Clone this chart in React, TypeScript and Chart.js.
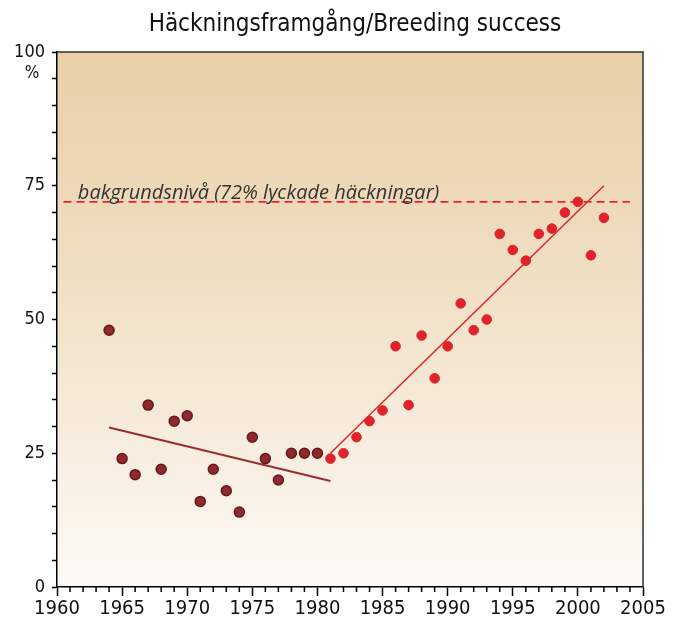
import React, { useEffect, useRef } from "react";
import { Chart, registerables } from "chart.js";

Chart.register(...registerables);

const TITLE = "Häckningsframgång/Breeding success";
const BASELINE_LABEL = "bakgrundsnivå (72% lyckade häckningar)";
const BASELINE_VALUE = 72;

const earlyYears = [1964, 1965, 1966, 1967, 1968, 1969, 1970, 1971, 1972, 1973, 1974, 1975, 1976, 1977, 1978, 1979, 1980];
const earlyValues = [48, 24, 21, 34, 22, 31, 32, 16, 22, 18, 14, 28, 24, 20, 25, 25, 25];

const lateYears = [1981, 1982, 1983, 1984, 1985, 1986, 1987, 1988, 1989, 1990, 1991, 1992, 1993, 1994, 1995, 1996, 1997, 1998, 1999, 2000, 2001, 2002];
const lateValues = [24, 25, 28, 31, 33, 45, 34, 47, 39, 45, 53, 48, 50, 66, 63, 61, 66, 67, 70, 72, 62, 69];

const earlyTrendYears = [1964, 1981];
const earlyTrendValues = [29.8, 19.8];
const lateTrendYears = [1981, 2002];
const lateTrendValues = [25, 75];

const baselineYears = [1960.5, 2004];

const xTicks = [1960, 1965, 1970, 1975, 1980, 1985, 1990, 1995, 2000, 2005];
const yTicks = [0, 25, 50, 75, 100];

const FONT = "'DejaVu Sans Condensed', 'DejaVu Sans', sans-serif";

export default function App() {
  const ref = useRef<HTMLCanvasElement | null>(null);

  useEffect(() => {
    document.body.style.margin = "0";
    const canvas = ref.current;
    if (!canvas) return;

    const decor = {
      id: "decor",
      beforeDraw(chart: any) {
        const { ctx, chartArea: a } = chart;
        const g = ctx.createLinearGradient(0, a.top, 0, a.bottom);
        g.addColorStop(0, "#E8CFA5");
        g.addColorStop(0.45, "#F1E0C6");
        g.addColorStop(1, "#FDFAF6");
        ctx.save();
        ctx.fillStyle = g;
        ctx.fillRect(a.left, a.top, a.right - a.left, a.bottom - a.top);
        ctx.restore();
      },
      afterDraw(chart: any) {
        const { ctx, chartArea: a, scales } = chart;
        const xs = scales.x;
        const ys = scales.y;
        ctx.save();
        // frame
        ctx.strokeStyle = "#333333";
        ctx.lineWidth = 1.5;
        ctx.beginPath();
        ctx.moveTo(a.left, a.top);
        ctx.lineTo(a.right, a.top);
        ctx.lineTo(a.right, a.bottom);
        ctx.stroke();
        // minor x ticks
        ctx.strokeStyle = "#000";
        ctx.lineWidth = 1.5;
        ctx.beginPath();
        for (let yr = xTicks[0]; yr <= xTicks[xTicks.length - 1]; yr++) {
          if (yr % 5 === 0) continue;
          const px = xs.getPixelForValue(yr);
          ctx.moveTo(px, a.bottom);
          ctx.lineTo(px, a.bottom + 5);
        }
        ctx.stroke();
        // percent sign
        ctx.fillStyle = "#111";
        ctx.font = `17px ${FONT}`;
        ctx.textAlign = "center";
        ctx.textBaseline = "middle";
        ctx.fillText("%", 32, ys.getPixelForValue(100) + 22);
        // baseline label
        ctx.fillStyle = "#333";
        ctx.font = `italic 20px 'Open Sans', sans-serif`;
        ctx.textAlign = "left";
        ctx.textBaseline = "alphabetic";
        ctx.fillText(BASELINE_LABEL, xs.getPixelForValue(1961.6), ys.getPixelForValue(BASELINE_VALUE) - 3);
        ctx.restore();
      },
    };

    const toPts = (xsArr: number[], ysArr: number[]) => xsArr.map((x, i) => ({ x, y: ysArr[i] }));

    const chart = new Chart(canvas, {
      type: "scatter",
      data: {
        datasets: [
          {
            type: "line",
            data: toPts(baselineYears, [BASELINE_VALUE, BASELINE_VALUE]),
            borderColor: "#E82430",
            borderWidth: 1.8,
            borderDash: [8, 5],
            pointRadius: 0,
            order: 3,
          } as any,
          {
            type: "line",
            data: toPts(earlyTrendYears, earlyTrendValues),
            borderColor: "#9A2C30",
            borderWidth: 2,
            pointRadius: 0,
            order: 2,
          } as any,
          {
            type: "line",
            data: toPts(lateTrendYears, lateTrendValues),
            borderColor: "#E0242C",
            borderWidth: 1.5,
            pointRadius: 0,
            order: 2,
          } as any,
          {
            data: toPts(earlyYears, earlyValues),
            backgroundColor: "#8C2A2E",
            borderColor: "#6A171A",
            borderWidth: 1.5,
            pointRadius: 5,
            order: 1,
          },
          {
            data: toPts(lateYears, lateValues),
            backgroundColor: "#E0222B",
            borderColor: "#E0222B",
            borderWidth: 1,
            pointRadius: 4.8,
            order: 0,
          },
        ],
      },
      options: {
        animation: false,
        responsive: false,
        maintainAspectRatio: false,
        layout: { padding: { top: 52, right: 34, left: 0, bottom: 0 }, autoPadding: false } as any,
        plugins: {
          legend: { display: false },
          tooltip: { enabled: false },
          title: { display: false },
        },
        scales: {
          x: {
            type: "linear",
            min: xTicks[0],
            max: xTicks[xTicks.length - 1],
            afterBuildTicks: (s: any) => {
              s.ticks = xTicks.map((v) => ({ value: v }));
            },
            afterFit: (s: any) => {
              s.height = 36;
            },
            grid: { drawOnChartArea: false, tickLength: 9, tickWidth: 1.5, tickColor: "#000" },
            border: { color: "#000", width: 1.5 },
            ticks: {
              color: "#111",
              font: { family: FONT, size: 20 },
              padding: 1,
              maxRotation: 0,
              autoSkip: false,
              callback: (v: any) => String(v),
            },
          },
          y: {
            type: "linear",
            min: 0,
            max: 100,
            afterBuildTicks: (s: any) => {
              const t = [];
              for (let v = 0; v <= 100; v += 5) t.push({ value: v });
              s.ticks = t;
            },
            afterFit: (s: any) => {
              s.width = 57;
            },
            grid: { drawOnChartArea: false, tickLength: 5, tickWidth: 1.5, tickColor: "#000" },
            border: { color: "#000", width: 1.5 },
            ticks: {
              color: "#111",
              font: { family: FONT, size: 18 },
              padding: 7,
              autoSkip: false,
              callback: (v: any) => (yTicks.includes(v) ? String(v) : ""),
            },
          },
        },
      },
      plugins: [decor],
    });

    return () => chart.destroy();
  }, []);

  return (
    <div style={{ position: "relative", width: 677, height: 623 }}>
      <div
        style={{
          position: "absolute",
          top: 8,
          left: 0,
          width: 677,
          textAlign: "center",
          fontFamily: FONT,
          fontSize: 24,
          lineHeight: "30px",
          color: "#111",
          paddingLeft: 33,
          boxSizing: "border-box",
        }}
      >
        {TITLE}
      </div>
      <canvas ref={ref} width={677} height={623} style={{ display: "block" }} />
    </div>
  );
}
